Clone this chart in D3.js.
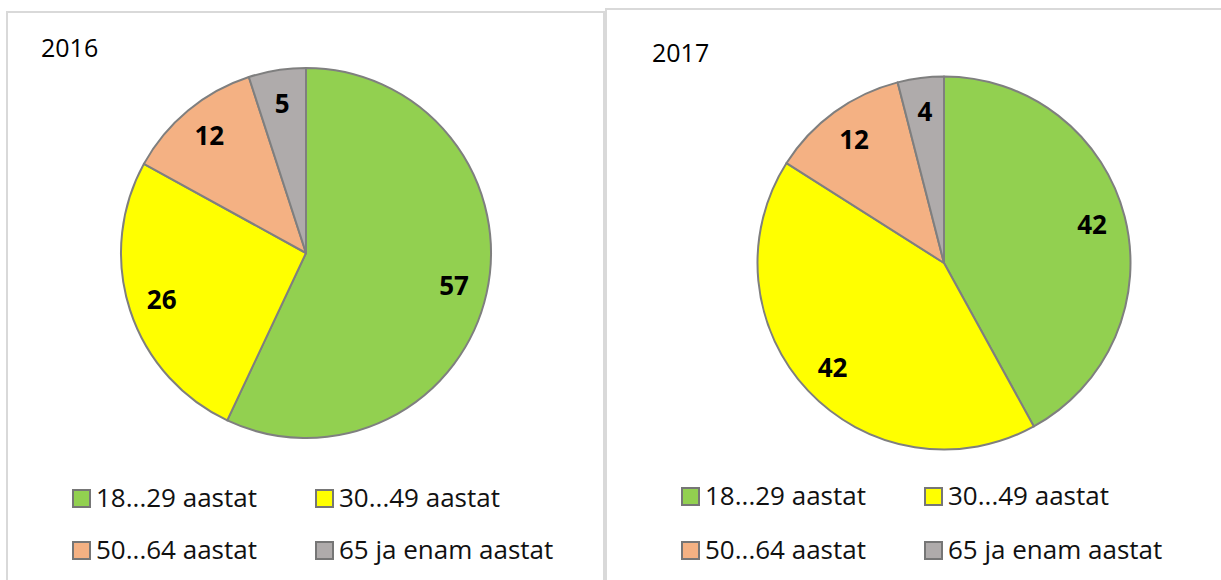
<!DOCTYPE html>
<html>
<head>
<meta charset="utf-8">
<script src="https://cdn.jsdelivr.net/npm/d3@7"></script>
<style>
  html, body { margin: 0; padding: 0; background: #fff; }
  svg { display: block; }
  text { font-family: "Open Sans", "DejaVu Sans", sans-serif; }
</style>
</head>
<body>
<svg id="chart" width="1221" height="580"></svg>
<script>
// data
var categories = ["18...29 aastat", "30...49 aastat", "50...64 aastat", "65 ja enam aastat"];
var years = ["2016", "2017"];
var values2016 = [57, 26, 12, 5];
var values2017 = [42, 42, 12, 4];
var colors = ["#92d050", "#ffff00", "#f4b183", "#afabab"];

var series = [values2016, values2017];

// layout of the two panels
var panels = [
    {x: 7,   y: 12, w: 597, h: 600, tx: 41,  ty: 57, cx: 306, cy: 253, r: 185,   lx: 72,  rows: [507, 559]},
    {x: 606, y: 9,  w: 640, h: 600, tx: 652, ty: 62, cx: 944, cy: 263, r: 186.5, lx: 681, rows: [505, 559]}
];
var COL_GAP = 243;
var SQ = 17;

var svg = d3.select("#chart");
var color = d3.scaleOrdinal().domain(categories).range(colors);
var pie = d3.pie().sort(null).value(function (d) { return d.v; });

panels.forEach(function (p, k) {
    var g = svg.append("g");

    g.append("rect")
        .attr("x", p.x).attr("y", p.y)
        .attr("width", p.w).attr("height", p.h)
        .attr("fill", "#fff")
        .attr("stroke", "#d9d9d9")
        .attr("stroke-width", 2);

    g.append("text")
        .text(years[k])
        .attr("x", p.tx).attr("y", p.ty)
        .attr("font-size", 25)
        .attr("fill", "#000");

    var data = categories.map(function (c, i) { return {c: c, v: series[k][i]}; });
    var arcs = pie(data);
    var arc = d3.arc().innerRadius(0).outerRadius(p.r);
    var labelArc = d3.arc().innerRadius(p.r * 0.82).outerRadius(p.r * 0.82);

    var pg = g.append("g").attr("transform", "translate(" + p.cx + "," + p.cy + ")");

    pg.selectAll("path")
        .data(arcs)
        .enter()
        .append("path")
        .attr("d", arc)
        .attr("fill", function (d) { return color(d.data.c); })
        .attr("stroke", "#7f7f7f")
        .attr("stroke-width", 2)
        .attr("stroke-linejoin", "round");

    pg.selectAll("text.lbl")
        .data(arcs)
        .enter()
        .append("text")
        .attr("class", "lbl")
        .text(function (d) { return d.data.v; })
        .attr("x", function (d) { return labelArc.centroid(d)[0]; })
        .attr("y", function (d) { return labelArc.centroid(d)[1]; })
        .attr("text-anchor", "middle")
        .attr("dy", "0.36em")
        .attr("font-size", 26)
        .attr("font-weight", "bold")
        .attr("fill", "#000");

    var lg = g.selectAll("g.leg")
        .data(categories)
        .enter()
        .append("g")
        .attr("class", "leg")
        .attr("transform", function (d, i) {
            return "translate(" + (p.lx + (i % 2) * COL_GAP) + "," + p.rows[Math.floor(i / 2)] + ")";
        });

    lg.append("rect")
        .attr("x", 1).attr("y", -SQ)
        .attr("width", SQ).attr("height", SQ)
        .attr("fill", function (d) { return color(d); })
        .attr("stroke", "#767676")
        .attr("stroke-width", 2);

    lg.append("text")
        .text(function (d) { return d; })
        .attr("x", SQ + 7)
        .attr("y", 0)
        .attr("font-size", 26)
        .attr("fill", "#111");
});
</script>
</body>
</html>
